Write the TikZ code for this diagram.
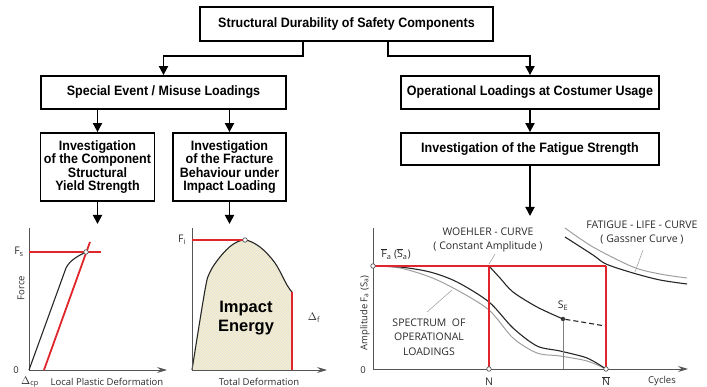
\documentclass[tikz,border=0pt]{standalone}
\usepackage{fontspec}
\setmainfont{Liberation Sans}
\newfontfamily\boxfont{Liberation Sans}[FakeStretch=0.92]
\newfontfamily\plotfont{Open Sans}
\usetikzlibrary{arrows.meta,patterns}
\definecolor{redline}{HTML}{E0262B}
\definecolor{ink}{HTML}{2B2B2B}
\definecolor{axisgray}{HTML}{555555}
\definecolor{energy}{HTML}{F3EFCD}
\newcommand{\barred}[1]{$\overline{\hbox{#1}}$}
\begin{document}
\begin{tikzpicture}[x=1pt,y=-1pt,
  box/.style={draw, line width=1.8pt, inner sep=0pt, align=center,
    font=\boxfont\bfseries\fontsize{13.6}{13.2}\selectfont},
  conn/.style={line width=1.8pt, -{Triangle[length=9pt,width=9pt]}},
  axis/.style={draw=axisgray, line width=0.9pt},
  axisarrow/.style={axis, -{Stealth[length=10pt,width=6pt,inset=3.5pt]}},
  redl/.style={draw=redline, line width=1.8pt},
  curve/.style={draw=black!85, line width=1.1pt},
  graycurve/.style={draw=gray!75, line width=1pt},
  leader/.style={draw=gray!70, line width=0.6pt},
  lbl/.style={text=ink, font=\plotfont\fontsize{9.5}{10}\selectfont, inner sep=0pt},
  sym/.style={text=ink, font=\plotfont\fontsize{10.5}{11}\selectfont, inner sep=0pt},
  biglbl/.style={text=ink, font=\plotfont\fontsize{10.5}{14}\selectfont, inner sep=0pt, align=center},
  dot/.style={circle, draw=axisgray, fill=white, line width=0.7pt, inner sep=0pt, minimum size=4.5pt},
  fdot/.style={circle, fill=black!75, inner sep=0pt, minimum size=4.5pt},
]
\useasboundingbox (0,0) rectangle (707,387);

% ---------------- tree of boxes ----------------
\node[box, minimum width=293pt, minimum height=34pt] (title) at (346.5,24)
  {Structural Durability of Safety Components};
\node[box, minimum width=245pt, minimum height=33pt] (special) at (163.5,92.5)
  {Special Event / Misuse Loadings};
\node[box, minimum width=258pt, minimum height=33pt] (oper) at (530,92.5)
  {Operational Loadings at Costumer Usage};
\node[box, minimum width=114pt, minimum height=68pt] (yield) at (97.5,167)
  {Investigation\\of the Component\\Structural\\Yield Strength};
\node[box, minimum width=113pt, minimum height=68pt] (fract) at (229.5,167)
  {Investigation\\of the Fracture\\Behaviour under\\Impact Loading};
\node[box, minimum width=258pt, minimum height=32pt] (fatigue) at (530,149)
  {Investigation of the Fatigue Strength};

\draw[conn] ([xshift=-43.5pt]title.south) -- ++(0,14) -| (special.north);
\draw[conn] ([xshift=41.5pt]title.south) -- ++(0,14) -| (oper.north);
\draw[conn] (special.south -| yield.north) -- (yield.north);
\draw[conn] (special.south -| fract.north) -- (fract.north);
\draw[conn] (oper.south) -- (fatigue.north);
\coordinate (lowend) at (0,224);
\coordinate (fatend) at (0,216);
\draw[conn] (yield.south) -- (yield.south |- lowend);
\draw[conn] (fract.south) -- (fract.south |- lowend);
\draw[conn] (fatigue.south) -- (fatigue.south |- fatend);

% ---------------- force / local plastic deformation ----------------
\coordinate (o1) at (29,370);
\draw[axis] (29,228) -- (o1);
\draw[axisarrow] (o1) -- (167,370);
\draw[curve] (o1) -- (66,268) .. controls (70,260) and (78,256) .. (86,252);
\draw[redl] (29,252) -- (101,252);
\draw[redl] (44,370) -- (90,242);
\node[dot] (ys) at (86,252) {};
\node[sym] (fs) at (19,252) {F\textsubscript{s}};
\node[lbl, rotate=90] (force) at (21,288) {Force};
\node[lbl] (z1) at (16,370) {0};
\node[sym] (dcp) at (30,382) {$\Delta$\textsubscript{cp}};
\node[lbl] (lpd) at (107,382) {Local Plastic Deformation};

% ---------------- impact energy ----------------
\coordinate (o2) at (192,370);
\fill[energy] plot[smooth, tension=0.55] coordinates
  {(192,370) (205,290) (210,272) (220,257) (232,245) (245,240) (260,247) (275,263) (287,285) (292,292)}
  -- (292,370) -- cycle;
\fill[pattern=north east lines, pattern color=black!12] plot[smooth, tension=0.55] coordinates
  {(192,370) (205,290) (210,272) (220,257) (232,245) (245,240) (260,247) (275,263) (287,285) (292,292)}
  -- (292,370) -- cycle;
\draw[curve] plot[smooth, tension=0.55] coordinates
  {(192,370) (205,290) (210,272) (220,257) (232,245) (245,240) (260,247) (275,263) (287,285) (292,292)};
\draw[axis] (192,228) -- (o2);
\draw[axisarrow] (o2) -- (327,370);
\draw[redl] (192,240) -- (244,240);
\draw[redl] (292,292) -- (292,370);
\node[dot] (fi) at (245,240) {};
\node[sym] (fil) at (182,240) {F\textsubscript{i}};
\node[sym] (df) at (314,318) {$\Delta$\textsubscript{f}};
\node[lbl] (tdl) at (259,382) {Total Deformation};
\node[font=\fontsize{16.5}{19}\selectfont\bfseries, align=center, inner sep=0pt] (ie) at (246,318)
  {Impact\\Energy};

% ---------------- amplitude / cycles ----------------
\coordinate (o3) at (373,369);
\draw[axis] (373,228) -- (o3);
\draw[axisarrow] (o3) -- (688,369);
% fatigue-life curves
\draw[graycurve] plot[smooth] coordinates {(565,228) (593,247) (633,267) (660,274) (687,278)};
\draw[curve] plot[smooth] coordinates {(565,237) (593,255) (606,264) (633,273) (660,280) (687,284)};
% load spectrum
\draw[graycurve] plot[smooth] coordinates
  {(373,266) (400,268) (430,277) (457,290) (489,310) (513,338) (537,353) (560,356) (587,361) (606,369)};
\draw[curve] plot[smooth] coordinates
  {(373,266) (400,267) (430,272) (457,282) (489,302) (513,328) (537,346) (560,351) (587,358) (606,369)};
% Woehler curve
\node[fdot] (se) at (563,319) {};
\draw[curve] plot[smooth] coordinates {(489,266) (500,278) (513,292) (537,307) (563,319)};
\draw[curve, dashed, dash pattern=on 5pt off 3pt] (se) .. controls (582,322) .. (605,326);
\draw[leader, draw=gray] (se) -- (se |- o3);
% red reference lines
\draw[redl] (373,266) -- (606,266);
\draw[redl] (489,266) -- (489,369);
\draw[redl] (606,266) -- (606,369);
\node[dot] (fa) at (373,266) {};
\node[dot] (nn) at (489,369) {};
\node[dot] (nb) at (606,369) {};
% labels and leaders
\node[sym] (fal) at (396,254)
  {\barred{F}\textsubscript{a} (\barred{S}\textsubscript{a})};
\node[lbl, rotate=90] (ampl) at (365,313) {Amplitude F\textsubscript{a} (S\textsubscript{a})};
\node[lbl] (z3) at (363,370) {0};
\node[sym] (nl) at (489,382) {N};
\node[sym] (nbl) at (606,381) {\barred{N}};
\node[lbl] (cyc) at (662,381) {Cycles};
\node[sym] (sel) at (563,306) {S\textsubscript{E}};
\node[biglbl] (wl) at (488,240) {WOEHLER - CURVE\\( Constant Amplitude )};
\node[biglbl] (fl) at (642,233) {FATIGUE - LIFE - CURVE\\( Gassner Curve )};
\node[biglbl, font=\plotfont\fontsize{10.5}{14.5}\selectfont] (sl) at (429,337)
  {SPECTRUM\ \ OF\\OPERATIONAL\\LOADINGS};
\draw[leader] (495,254) -- (489,264);
\draw[leader] (643,250) -- (635,272);
\draw[leader] (427,312) -- (452,290);
\end{tikzpicture}
\end{document}
